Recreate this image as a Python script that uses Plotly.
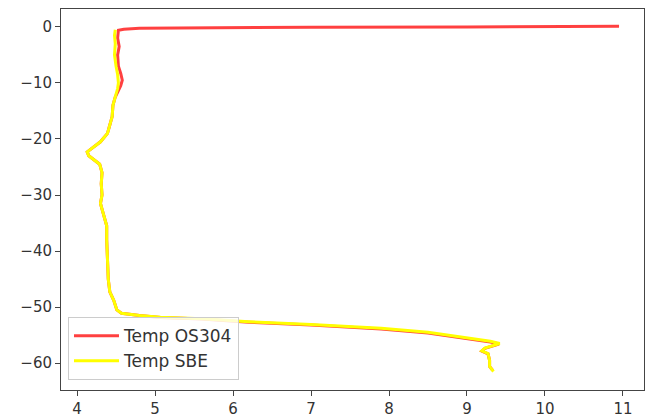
import plotly.graph_objects as go

# OS304 profile (temperature, depth)
os304_temp = [10.95, 10.8, 10.5, 9.0, 7.0, 5.5, 4.8, 4.6, 4.53, 4.52, 4.54, 4.52, 4.53, 4.56, 4.58,
              4.56, 4.52, 4.49, 4.46, 4.45, 4.42, 4.39, 4.30, 4.22, 4.13, 4.15, 4.22, 4.29, 4.32,
              4.31, 4.32, 4.30, 4.33, 4.38, 4.38, 4.39, 4.40, 4.42, 4.47, 4.51, 4.57, 4.8, 5.07,
              5.6, 6.2, 7.0, 7.9, 8.5, 8.97, 9.3, 9.41, 9.23, 9.19, 9.27, 9.29, 9.29, 9.33]
os304_depth = [0.1, 0.1, 0.05, 0.0, -0.05, -0.1, -0.25, -0.4, -0.6, -2.0, -3.5, -5.0, -7.0, -8.3, -9.5,
               -10.5, -11.5, -12.5, -14.0, -16.0, -17.5, -19.0, -20.5, -21.3, -22.3, -23.0, -23.8, -24.5, -26.0,
               -28.0, -30.0, -31.5, -33.0, -35.5, -38.0, -42.0, -45.0, -47.3, -48.8, -50.5, -51.1, -51.5, -51.85,
               -52.15, -52.7, -53.2, -53.9, -54.65, -55.55, -56.25, -56.6, -57.35, -57.85, -58.35, -59.5, -60.6, -61.3]

# SBE profile (temperature, depth)
sbe_temp = [4.49, 4.48, 4.49, 4.48, 4.50, 4.52, 4.53, 4.52, 4.49, 4.46, 4.45, 4.42, 4.39, 4.30, 4.22,
            4.13, 4.15, 4.22, 4.29, 4.32, 4.31, 4.32, 4.30, 4.33, 4.38, 4.38, 4.39, 4.40, 4.42, 4.47,
            4.51, 4.57, 4.8, 5.07, 5.6, 6.2, 7.0, 7.9, 8.5, 8.97, 9.3, 9.42, 9.23, 9.19, 9.27, 9.29,
            9.29, 9.34]
sbe_depth = [-0.5, -1.5, -3.0, -5.0, -7.0, -8.5, -10.0, -11.0, -12.5, -14.0, -16.0, -17.5, -19.0, -20.5, -21.3,
             -22.3, -23.0, -23.8, -24.5, -26.0, -28.0, -30.0, -31.5, -33.0, -35.5, -38.0, -42.0, -45.0, -47.3, -48.8,
             -50.5, -51.1, -51.5, -51.8, -52.1, -52.6, -53.1, -53.8, -54.5, -55.4, -56.1, -56.5, -57.3, -57.8, -58.3, -59.5,
             -60.6, -61.5]

x_ticks = [4, 5, 6, 7, 8, 9, 10, 11]
y_ticks = [0, -10, -20, -30, -40, -50, -60]

fig = go.Figure()
fig.add_trace(go.Scatter(x=os304_temp, y=os304_depth, mode="lines", name="Temp OS304",
                         line=dict(color="rgba(255,0,0,0.75)", width=3), legendgroup="a"))
fig.add_trace(go.Scatter(x=sbe_temp, y=sbe_depth, mode="lines", name="Temp SBE",
                         line=dict(color="#ffff00", width=3), legendgroup="b"))

axis_common = dict(showgrid=False, zeroline=False, showline=True, linecolor="#444", linewidth=1,
                   mirror=True, ticks="outside", ticklen=5, tickcolor="#444",
                   tickfont=dict(family="DejaVu Sans", size=15, color="#333"))
fig.update_xaxes(range=[3.794, 11.27], tickvals=x_ticks, **axis_common)
fig.update_yaxes(range=[-64.8, 3.2], tickvals=y_ticks, **axis_common)

fig.update_layout(
    width=646, height=420,
    margin=dict(l=61, r=2, t=9, b=30),
    paper_bgcolor="white", plot_bgcolor="white",
    legend=dict(x=0.012, y=0.026, xanchor="left", yanchor="bottom",
                bgcolor="rgba(255,255,255,0.8)", bordercolor="#ccc", borderwidth=1,
                font=dict(family="DejaVu Sans", size=17, color="#333"),
                tracegroupgap=0, itemwidth=45),
    showlegend=True,
)

fig.write_html("out.html")
